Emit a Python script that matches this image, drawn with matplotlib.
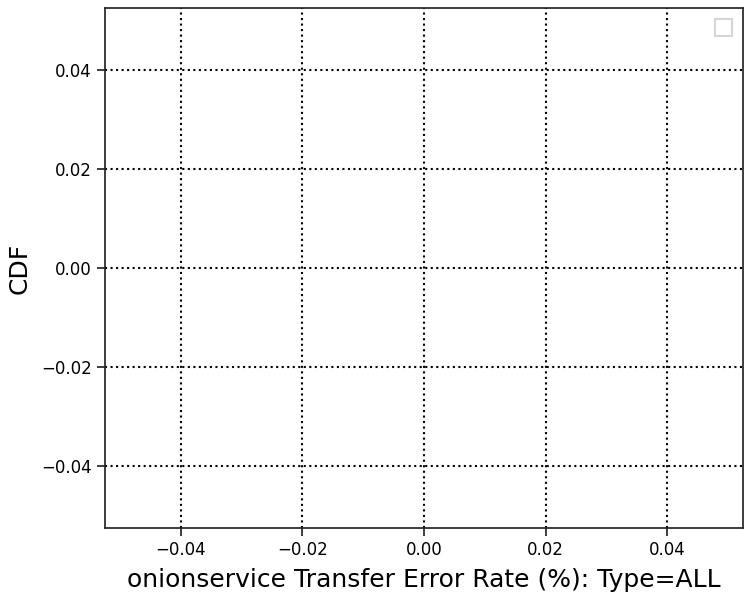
import matplotlib
matplotlib.use('Agg')
import matplotlib.pyplot as plt

# no series in the reference: the plot is empty
xs = []
ys = []
xlabel = 'onionservice Transfer Error Rate (%): Type=ALL'
ylabel = 'CDF'

fig = plt.figure(figsize=(7.5, 6), dpi=100)
ax = fig.add_axes([0.14, 0.12, 0.8507, 0.8667])
ax.plot(xs, ys)
ax.set_xlim(-0.0525, 0.0525)
ax.set_ylim(-0.0525, 0.0525)
ax.set_xticks([-0.04, -0.02, 0.0, 0.02, 0.04])
ax.set_yticks([-0.04, -0.02, 0.0, 0.02, 0.04])
ax.grid(True, color='black', linestyle=':', linewidth=1.5)
for s in ax.spines.values():
    s.set_color('#262626')
    s.set_linewidth(1.25)
ax.tick_params(colors='#262626', labelcolor='black', labelsize=12, width=1.25, length=6)
ax.set_xlabel(xlabel, fontsize=18, labelpad=6.5)
ax.set_ylabel(ylabel, fontsize=18, labelpad=7)
leg = ax.legend(handles=[], loc='upper right', fontsize=15.5, borderaxespad=0.5,
                fancybox=False)
leg.get_frame().set_edgecolor('#cccccc')
leg.get_frame().set_linewidth(1.5)
fig.savefig('out.png')
